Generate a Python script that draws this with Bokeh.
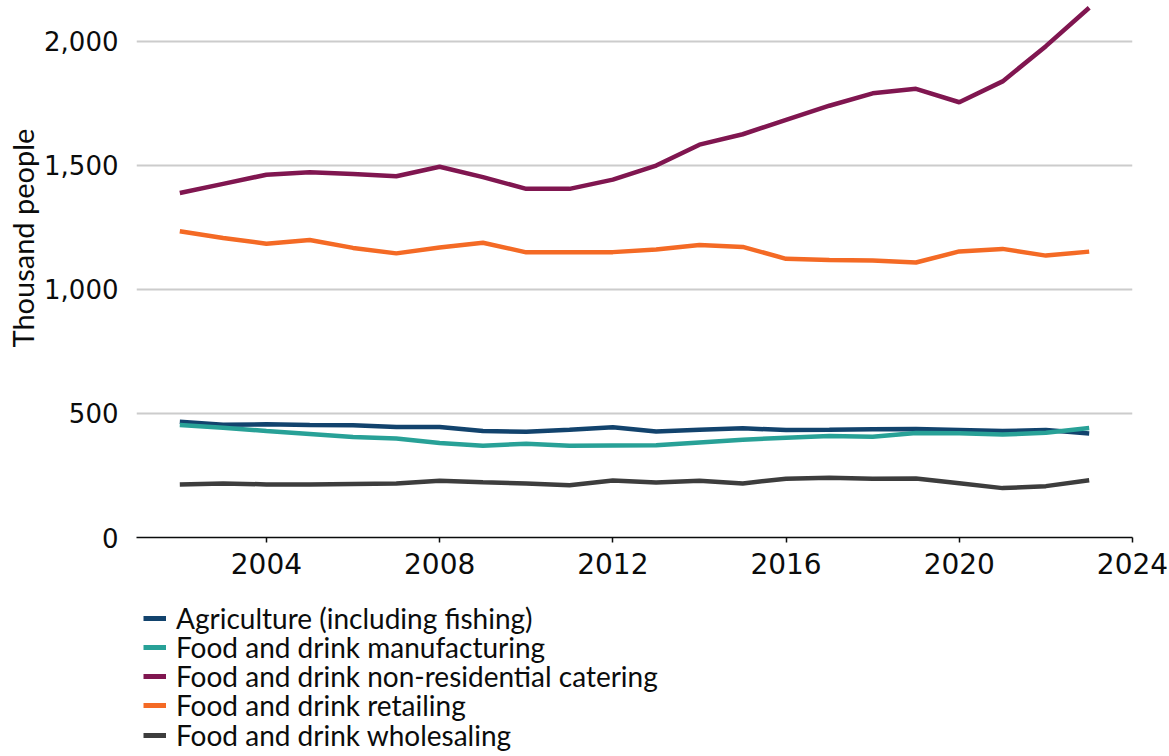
import numpy as np
from bokeh.plotting import figure
from bokeh.models import (Legend, LegendItem, Range1d, FixedTicker, NumeralTickFormatter, Title)
from bokeh.layouts import column
from bokeh.embed import file_html
from bokeh.resources import INLINE

years = list(range(2002, 2024))
agriculture = [466, 454, 456, 453, 452, 445, 445, 429, 426, 434, 444, 427, 434, 440, 433, 434, 436, 437, 433, 429, 433, 419]
manufacturing = [453, 442, 429, 417, 405, 399, 381, 370, 378, 370, 371, 372, 383, 394, 402, 409, 406, 421, 420, 415, 422, 441]
catering = [1388, 1425, 1462, 1472, 1465, 1456, 1494, 1452, 1405, 1405, 1442, 1499, 1583, 1625, 1683, 1740, 1790, 1808, 1754, 1838, 1980, 2135]
retailing = [1234, 1207, 1184, 1199, 1167, 1145, 1169, 1188, 1149, 1150, 1150, 1161, 1179, 1171, 1123, 1118, 1116, 1108, 1153, 1163, 1136, 1152]
wholesaling = [214, 218, 214, 214, 216, 218, 229, 223, 218, 211, 230, 222, 229, 218, 237, 241, 237, 238, 219, 199, 207, 231]

series_names = ["Agriculture (including fishing)", "Food and drink manufacturing",
                "Food and drink non-residential catering", "Food and drink retailing",
                "Food and drink wholesaling"]
series_values = [agriculture, manufacturing, catering, retailing, wholesaling]
colors = ["#12436D", "#28A197", "#801650", "#F46A25", "#3D3D3D"]
x_ticks = [2004, 2008, 2012, 2016, 2020, 2024]
y_ticks = [0, 500, 1000, 1500, 2000]
y_title = "Thousand people"

TEXT = "#0b0c0c"

# ---- main chart ----
p = figure(width=1169, height=595, output_backend="svg", toolbar_location=None,
           x_range=Range1d(2001, 2024), y_range=Range1d(0, 2164),
           min_border_left=136, min_border_right=37, min_border_top=0,
           min_border_bottom=58)
p.outline_line_color = None

for vals, col in zip(series_values, colors):
    p.line(years, vals, line_color=col, line_width=4.5)

p.xgrid.grid_line_color = None
p.ygrid.grid_line_color = "#cccccc"
p.ygrid.grid_line_width = 2
p.ygrid.ticker = FixedTicker(ticks=y_ticks)

xa = p.xaxis[0]
xa.ticker = FixedTicker(ticks=x_ticks)
xa.axis_line_color = TEXT
xa.axis_line_width = 1.5
xa.major_tick_line_color = TEXT
xa.major_tick_line_width = 1.5
xa.major_tick_out = 5
xa.major_tick_in = 0
xa.minor_tick_line_color = None
xa.major_label_text_font = "DejaVu Sans"
xa.major_label_text_font_size = "28px"
xa.major_label_text_color = TEXT
xa.major_label_standoff = 10

ya = p.yaxis[0]
ya.ticker = FixedTicker(ticks=y_ticks)
ya.formatter = NumeralTickFormatter(format="0,0")
ya.axis_line_color = None
ya.major_tick_line_color = None
ya.minor_tick_line_color = None
ya.major_tick_out = 0
ya.major_label_text_font = "DejaVu Sans"
ya.major_label_text_font_size = "26px"
ya.major_label_text_color = TEXT
ya.major_label_standoff = 18

p.add_layout(Title(text=y_title, align="left", offset=190, standoff=4,
                   text_font="Lato", text_font_size="29px", text_font_style="normal",
                   text_color=TEXT), "left")

# ---- legend panel ----
LG_H = 161
lg = figure(width=1169, height=LG_H, output_backend="svg", toolbar_location=None,
            x_axis_type=None, y_axis_type=None,
            x_range=Range1d(0, 1), y_range=Range1d(0, 1),
            min_border_left=0, min_border_right=0, min_border_top=0,
            min_border_bottom=0)
lg.outline_line_color = None
lg.xgrid.grid_line_color = None
lg.ygrid.grid_line_color = None

row_centers = [25, 54, 83, 112, 142]   # legend row centres (px from panel top)
ITEM_H = 30
for name, col, yc in zip(series_names, colors, row_centers):
    r = lg.line(x=np.array([np.nan]), y=np.array([np.nan]), line_color=col, line_width=5)
    leg = Legend(items=[LegendItem(label=name, renderers=[r])],
                 location=(7, LG_H - yc - ITEM_H // 2), orientation="vertical",
                 border_line_color=None, background_fill_alpha=0,
                 padding=0, spacing=0, margin=0,
                 glyph_width=23, glyph_height=ITEM_H, label_height=ITEM_H,
                 label_standoff=10, label_text_font="Lato",
                 label_text_font_size="28px", label_text_color=TEXT,
                 label_text_baseline="middle", label_text_line_height=1.0)
    lg.add_layout(leg, "center")

open("out.html", "w").write(file_html(column(p, lg), INLINE))
